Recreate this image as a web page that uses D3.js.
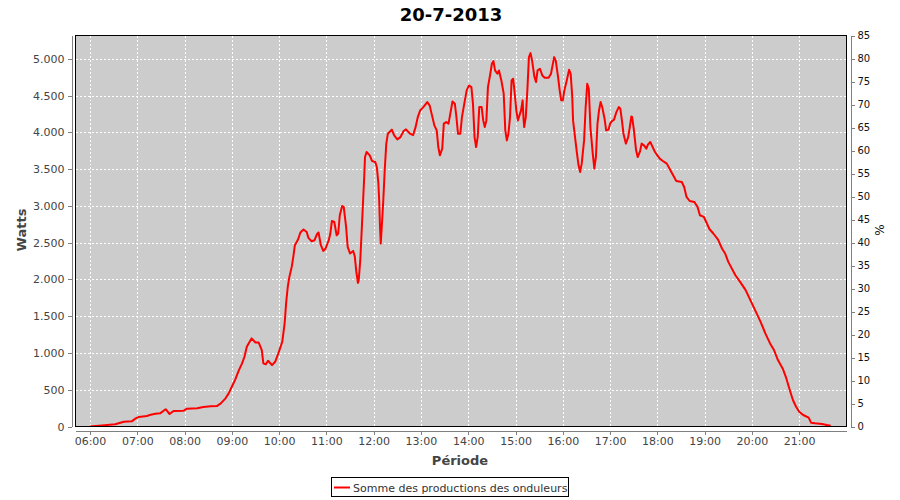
<!DOCTYPE html>
<html>
<head>
<meta charset="utf-8">
<script src="https://cdn.jsdelivr.net/npm/d3@7"></script>
<style>
  html, body { margin: 0; padding: 0; background: #ffffff; }
  svg { display: block; }
</style>
</head>
<body>
<svg id="chart" width="900" height="500"></svg>
<script>
const title = "20-7-2013";
const seriesName = "Somme des productions des onduleurs";
const xLabel = "Période";
const yLabel = "Watts";
const y2Label = "%";

const times = [
"06:00","06:15","06:32","06:43","06:53","06:58","07:02","07:12","07:17","07:23","07:29","07:36","07:41","07:46","07:59",
"08:03","08:16","08:24","08:33","08:41","08:46","08:52","08:56","09:00","09:04","09:09","09:13","09:16","09:19","09:25",
"09:30","09:34","09:38","09:40","09:43","09:46","09:51","09:55","09:59","10:04","10:07","10:09","10:11","10:13","10:16",
"10:18","10:20","10:24","10:27","10:31","10:35","10:37","10:41","10:45","10:48","10:50","10:53","10:56","10:59","11:03",
"11:05","11:07","11:10","11:13","11:15","11:17","11:20","11:22","11:25","11:27","11:30","11:34","11:36","11:38","11:40",
"11:41","11:43","11:45","11:47","11:48","11:49","11:51","11:55","11:58","12:02","12:04","12:06","12:07","12:08","12:09",
"12:10","12:12","12:14","12:16","12:18","12:23","12:26","12:30","12:34","12:38","12:41","12:46","12:50","12:53","12:56",
"12:59","13:03","13:08","13:11","13:14","13:17","13:20","13:22","13:24","13:27","13:29","13:32","13:35","13:38","13:40",
"13:43","13:45","13:47","13:50","13:52","13:55","13:58","14:01","14:04","14:06","14:08","14:10","14:12","14:14","14:17",
"14:19","14:21","14:23","14:25","14:28","14:30","14:32","14:34","14:37","14:39","14:42","14:45","14:47","14:49","14:51",
"14:53","14:55","14:57","14:59","15:01","15:03","15:05","15:07","15:09","15:10","15:11","15:13","15:15","15:17","15:19",
"15:21","15:24","15:26","15:28","15:31","15:34","15:37","15:42","15:45","15:47","15:49","15:51","15:54","15:56","15:58",
"16:00","16:02","16:05","16:08","16:10","16:12","16:13","16:16","16:18","16:20","16:22","16:24","16:27","16:29","16:31",
"16:33","16:35","16:38","16:40","16:42","16:44","16:46","16:48","16:50","16:53","16:55","16:58","17:00","17:02","17:05",
"17:08","17:11","17:13","17:15","17:17","17:20","17:23","17:25","17:27","17:28","17:30","17:33","17:35","17:38","17:40",
"17:43","17:46","17:48","17:51","17:53","17:57","18:00","18:03","18:07","18:12","18:16","18:20","18:24","18:31","18:34",
"18:37","18:41","18:47","18:51","18:54","18:59","19:02","19:06","19:11","19:17","19:22","19:26","19:30","19:39","19:45",
"19:52","19:58","20:04","20:11","20:17","20:23","20:28","20:33","20:39","20:43","20:48","20:52","20:56","21:00","21:05",
"21:12","21:15","21:20","21:29","21:35","21:40"
];

const watts = [
0,15,30,65,70,110,130,143,160,174,179,235,170,210,215,
242,247,265,274,278,315,383,450,540,631,767,858,948,1084,1198,
1143,1143,1039,858,845,894,835,880,994,1152,1401,1690,1900,2034,2170,
2306,2465,2542,2637,2678,2645,2569,2519,2533,2614,2637,2465,2387,2420,2533,
2624,2795,2781,2600,2624,2872,2998,2985,2713,2442,2352,2387,2315,2102,1953,
1989,2261,2713,3167,3392,3664,3732,3687,3609,3596,3528,3302,3076,2713,2488,
2668,3031,3483,3846,3981,4036,3958,3904,3935,4017,4040,3981,3962,4063,4207,
4298,4343,4411,4366,4230,4094,4026,3800,3687,3778,4117,4139,4117,4298,4420,
4389,4207,3981,3981,4207,4389,4570,4637,4614,4389,3935,3800,3935,4343,4343,
4162,4071,4162,4614,4796,4932,4968,4841,4796,4841,4705,4525,4026,3890,3981,
4207,4705,4728,4525,4298,4162,4230,4298,4434,4207,4071,4207,4570,5022,5076,
4977,4751,4683,4841,4864,4773,4742,4742,4796,4909,5022,4977,4751,4570,4434,
4434,4570,4705,4850,4796,4479,4162,3890,3710,3551,3460,3574,3890,4343,4660,
4592,4071,3710,3506,3664,4117,4300,4411,4343,4185,4026,4036,4117,4149,4172,
4275,4343,4321,4162,3981,3846,3935,4071,4216,4207,4049,3755,3664,3740,3846,
3823,3778,3832,3868,3823,3732,3687,3642,3610,3574,3495,3415,3338,3324,3256,
3121,3066,3053,2985,2872,2849,2781,2685,2624,2540,2420,2352,2238,2057,1966,
1854,1718,1582,1423,1266,1130,1039,903,790,676,496,360,269,201,156,
120,52,43,34,20,10
];

const xDomainLabels = ["05:41:37", "22:00:00"];
const xTickLabels = ["06:00","07:00","08:00","09:00","10:00","11:00","12:00","13:00","14:00","15:00","16:00","17:00","18:00","19:00","20:00","21:00"];
const yDomain = [0, 5316];
const yTicks = [0,500,1000,1500,2000,2500,3000,3500,4000,4500,5000];
const y2Domain = [0, 85];
const y2Ticks = [0,5,10,15,20,25,30,35,40,45,50,55,60,65,70,75,80,85];

const svg = d3.select("#chart");
const W = 900, H = 500;
const P = { left: 75.5, top: 35.5, right: 846.5, bottom: 426.5 };

const parseT = d3.timeParse("%H:%M");
const parseTS = d3.timeParse("%H:%M:%S");
const data = times.map((t, i) => ({ t: parseT(t), v: watts[i] }));

const x = d3.scaleTime().domain(xDomainLabels.map(parseTS)).range([P.left, P.right]);
const y = d3.scaleLinear().domain(yDomain).range([P.bottom, P.top]);
const y2 = d3.scaleLinear().domain(y2Domain).range([P.bottom, P.top]);

const fmtLocale = d3.formatLocale({ decimal: ",", thousands: ".", grouping: [3], currency: ["", ""] });
const fmtY = fmtLocale.format(",d");

// plot background
svg.append("rect")
  .attr("x", P.left).attr("y", P.top)
  .attr("width", P.right - P.left).attr("height", P.bottom - P.top)
  .attr("fill", "#cccccc");

// grid
const grid = svg.append("g").attr("stroke", "#ffffff").attr("stroke-width", 1)
  .attr("stroke-dasharray", "2,2").attr("shape-rendering", "crispEdges");
grid.selectAll("line.v").data(xTickLabels.map(parseT)).enter().append("line")
  .attr("x1", d => Math.round(x(d)) + 0.5).attr("x2", d => Math.round(x(d)) + 0.5)
  .attr("y1", P.top).attr("y2", P.bottom);
grid.selectAll("line.h").data(yTicks.filter(d => d > 0)).enter().append("line")
  .attr("y1", d => Math.round(y(d)) + 0.5).attr("y2", d => Math.round(y(d)) + 0.5)
  .attr("x1", P.left).attr("x2", P.right);

// clip
svg.append("clipPath").attr("id", "clip").append("rect")
  .attr("x", P.left).attr("y", P.top).attr("width", P.right - P.left).attr("height", P.bottom - P.top);

// line
const line = d3.line().x(d => x(d.t)).y(d => y(d.v));
svg.append("path").datum(data)
  .attr("clip-path", "url(#clip)")
  .attr("d", line)
  .attr("fill", "none")
  .attr("stroke", "#ff0000")
  .attr("stroke-width", 2)
  .attr("stroke-linejoin", "round");

// border
svg.append("rect")
  .attr("x", P.left).attr("y", P.top)
  .attr("width", P.right - P.left).attr("height", P.bottom - P.top)
  .attr("fill", "none").attr("stroke", "#000000").attr("stroke-width", 1)
  .attr("shape-rendering", "crispEdges");

function styleAxis(g, color, size) {
  g.select(".domain").attr("stroke", "#808080");
  g.selectAll(".tick line").attr("stroke", "#808080");
  g.selectAll(".tick text").attr("fill", color).style("font-family", "DejaVu Sans, sans-serif").style("font-size", size + "px");
  g.attr("shape-rendering", "crispEdges");
}

// left axis
const gy = svg.append("g").attr("transform", "translate(71.5,0)")
  .call(d3.axisLeft(y).tickValues(yTicks).tickFormat(fmtY).tickSize(4).tickSizeOuter(0).tickPadding(3));
styleAxis(gy, "#444444", 11);

// right axis
const gy2 = svg.append("g").attr("transform", "translate(850.5,0)")
  .call(d3.axisRight(y2).tickValues(y2Ticks).tickSize(4).tickSizeOuter(0).tickPadding(3));
styleAxis(gy2, "#111111", 10);

// bottom axis
const gx = svg.append("g").attr("transform", "translate(0,430.5)")
  .call(d3.axisBottom(x).tickValues(xTickLabels.map(parseT)).tickFormat(d3.timeFormat("%H:%M")).tickSize(4).tickSizeOuter(0).tickPadding(3));
styleAxis(gx, "#444444", 11);

// title
svg.append("text").attr("x", 451).attr("y", 21).attr("text-anchor", "middle")
  .style("font-family", "DejaVu Sans, sans-serif").style("font-weight", "bold").style("font-size", "18px")
  .attr("fill", "#000").text(title);

// axis labels
svg.append("text").attr("x", 460).attr("y", 465).attr("text-anchor", "middle")
  .style("font-family", "DejaVu Sans, sans-serif").style("font-weight", "bold").style("font-size", "13px")
  .attr("fill", "#444444").text(xLabel);
svg.append("text").attr("transform", "translate(26,230) rotate(-90)").attr("text-anchor", "middle")
  .style("font-family", "DejaVu Sans, sans-serif").style("font-weight", "bold").style("font-size", "13px")
  .attr("fill", "#444444").text(yLabel);
svg.append("text").attr("transform", "translate(884,230) rotate(-90)").attr("text-anchor", "middle")
  .style("font-family", "DejaVu Sans, sans-serif").style("font-size", "12px")
  .attr("fill", "#111111").text(y2Label);

// legend
const lg = svg.append("g");
lg.append("rect").attr("x", 331.5).attr("y", 477.5).attr("width", 237).attr("height", 19)
  .attr("fill", "#ffffff").attr("stroke", "#000000").attr("stroke-width", 1).attr("shape-rendering", "crispEdges");
lg.append("line").attr("x1", 334).attr("x2", 350).attr("y1", 487.5).attr("y2", 487.5)
  .attr("stroke", "#ff0000").attr("stroke-width", 2);
lg.append("text").attr("x", 353).attr("y", 491.5)
  .style("font-family", "DejaVu Sans, sans-serif").style("font-size", "11px")
  .attr("fill", "#333333").text(seriesName);
</script>
</body>
</html>
